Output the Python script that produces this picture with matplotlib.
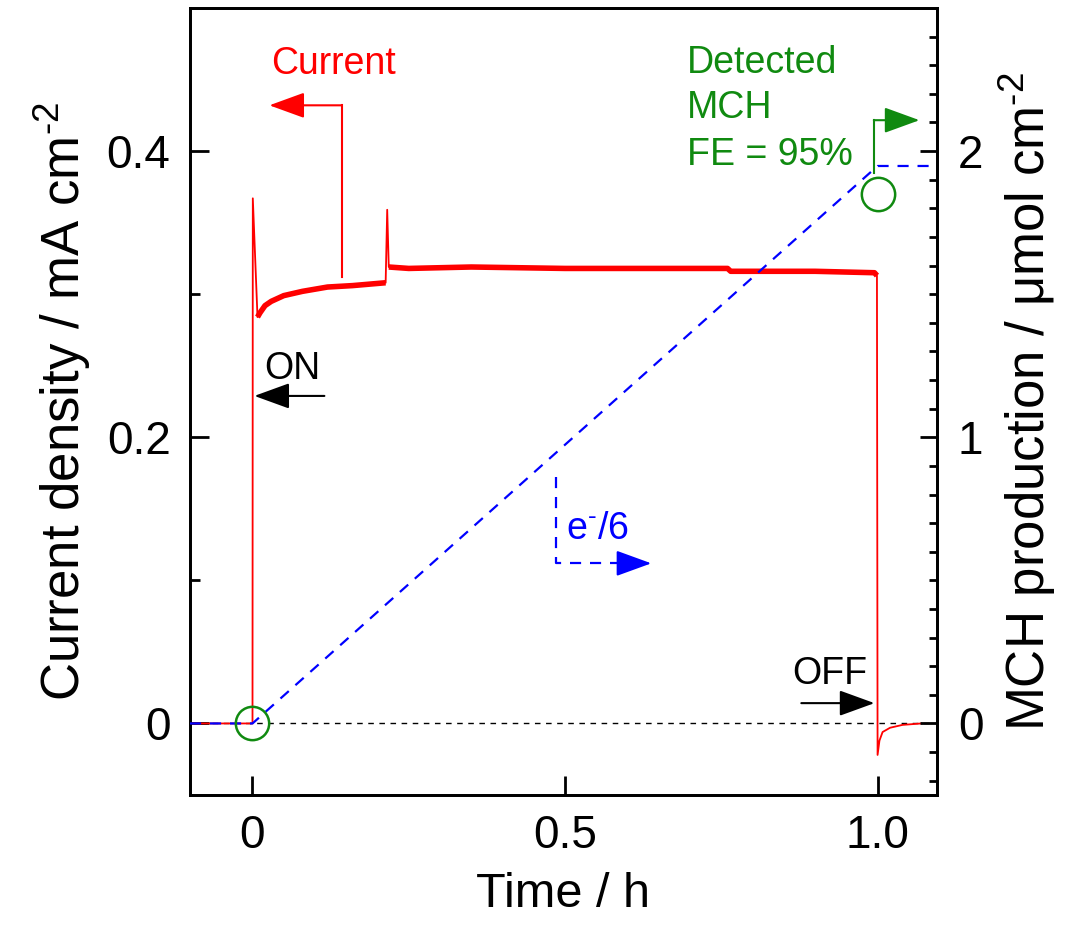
import matplotlib
matplotlib.use('Agg')
import matplotlib.pyplot as plt
import numpy as np

# current transient (mA cm-2)
time_h = [-0.1, -0.05, 0.0, 0.0005, 0.008, 0.012, 0.02, 0.03, 0.05, 0.08,
          0.12, 0.16, 0.213, 0.2155, 0.218, 0.25, 0.35, 0.5, 0.6, 0.76,
          0.765, 0.9, 0.995, 0.999, 1.0, 1.003, 1.008, 1.02, 1.04, 1.07]
current = [0.0, 0.0, 0.0, 0.367, 0.284, 0.287, 0.292, 0.295, 0.299, 0.302,
           0.305, 0.306, 0.308, 0.359, 0.319, 0.318, 0.319, 0.318, 0.318, 0.318,
           0.316, 0.316, 0.315, 0.313, -0.022, -0.012, -0.006, -0.003, -0.001, 0.0]

# expected MCH from charge (e-/6), umol cm-2
expected_time = [-0.1, 0.0, 1.0, 1.1]
expected_mch = [0.0, 0.0, 1.948, 1.948]

# detected MCH
detected_time = [0.0, 1.0]
detected_mch = [0.0, 1.85]

x_ticks = [0, 0.5, 1.0]
x_labels = ['0', '0.5', '1.0']
y_ticks = [0, 0.2, 0.4]
y_labels = ['0', '0.2', '0.4']
y2_ticks = [0, 1, 2]
y2_labels = ['0', '1', '2']

plt.rcParams['font.family'] = ['Liberation Sans', 'DejaVu Sans']
plt.rcParams['mathtext.fontset'] = 'custom'
plt.rcParams['mathtext.rm'] = 'Liberation Sans'
plt.rcParams['mathtext.default'] = 'regular'

red = '#ff0000'
blue = '#0000ff'
green = '#108a10'
hy = '\u2010'  # short hyphen for superscripts

fig = plt.figure(figsize=(10.74, 9.32), dpi=100)
ax = fig.add_axes([0.1769, 0.147, 0.6955, 0.8444])
ax2 = ax.twinx()

ax.axhline(0, color='black', lw=1.0, ls=(0, (4, 4)), zorder=1)

t = np.array(time_h)
j = np.array(current)
ax.plot(t, j, color=red, lw=1.3, zorder=3)
# noisy band of the measured trace
seg1 = (t >= 0.008) & (t <= 0.213)
seg2 = (t >= 0.218) & (t <= 0.999)
ax.plot(t[seg1], j[seg1], color=red, lw=4, zorder=3, solid_capstyle='butt')
ax.plot(t[seg2], j[seg2], color=red, lw=4, zorder=3, solid_capstyle='butt')

ax2.plot(expected_time, expected_mch, color=blue, lw=1.6, ls=(0, (5, 4)), zorder=4)
ax2.plot(detected_time, detected_mch, 'o', ms=24, mfc='none', mec=green, mew=1.8, zorder=5)

ax.set_xlim(-0.1, 1.095)
ax.set_ylim(-0.05, 0.5)
ax2.set_ylim(-0.25, 2.5)

ax.set_xticks(x_ticks, x_labels)
ax.set_yticks(y_ticks, y_labels)
ax.set_yticks([0.1, 0.3], minor=True)
ax2.set_yticks(y2_ticks, y2_labels)
ax2.set_yticks([v / 10 for v in range(-2, 25) if v % 10 != 0], minor=True)

ax.tick_params(axis='both', which='major', direction='in', length=14, width=2,
               labelsize=33, pad=14)
ax.tick_params(axis='y', which='minor', direction='in', length=7, width=2)
ax.tick_params(axis='x', which='major', top=False)
ax2.tick_params(axis='y', which='major', direction='in', length=12, width=2,
                labelsize=33, pad=15)
ax2.tick_params(axis='y', which='minor', direction='in', length=6, width=2)

for a in (ax, ax2):
    for s in a.spines.values():
        s.set_linewidth(2)

ax.set_xlabel('Time / h', fontsize=35, labelpad=10)
ax.set_ylabel('Current density / mA cm$^{' + hy + '2}$', fontsize=38, labelpad=10)
ax2.set_ylabel('MCH production / μmol cm$^{' + hy + '2}$', fontsize=38, labelpad=10)

# annotations
ax.text(0.129, 0.454, 'Current', color=red, fontsize=27, ha='center', va='baseline')
ax.plot([0.1426, 0.1426], [0.312, 0.432], color=red, lw=1.5, zorder=3)
ax.annotate('', xy=(0.027, 0.432), xytext=(0.1426, 0.432),
            arrowprops=dict(arrowstyle='-|>,head_length=1.1,head_width=0.4',
                            mutation_scale=20, color=red, lw=1.5, shrinkA=0, shrinkB=0))

ax.text(0.0192, 0.2406, 'ON', fontsize=27, ha='left', va='baseline')
ax.annotate('', xy=(0.003, 0.2289), xytext=(0.115, 0.2289),
            arrowprops=dict(arrowstyle='-|>,head_length=1.1,head_width=0.4',
                            mutation_scale=20, color='black', lw=1.5, shrinkA=0, shrinkB=0))

ax.text(0.864, 0.0273, 'OFF', fontsize=27, ha='left', va='baseline')
ax.annotate('', xy=(0.995, 0.0142), xytext=(0.878, 0.0142),
            arrowprops=dict(arrowstyle='-|>,head_length=1.1,head_width=0.4',
                            mutation_scale=20, color='black', lw=1.5, shrinkA=0, shrinkB=0))

ax.text(0.5016, 0.1287, 'e$^{' + hy + '}$/6', color=blue, fontsize=27, ha='left', va='baseline')
ax.plot([0.486, 0.486, 0.59], [0.172, 0.1119, 0.1119], color=blue, lw=1.6,
        ls=(0, (5, 4)), zorder=4)
ax.annotate('', xy=(0.638, 0.1119), xytext=(0.59, 0.1119),
            arrowprops=dict(arrowstyle='-|>,head_length=1.1,head_width=0.4',
                            mutation_scale=20, color=blue, lw=1.5, shrinkA=0, shrinkB=0))

for txt, yb in [('Detected', 0.4545), ('MCH', 0.423), ('FE = 95%', 0.390)]:
    ax.text(0.6955, yb, txt, color=green, fontsize=27, ha='left', va='baseline')
ax2.plot([0.994, 0.994], [1.923, 2.108], color=green, lw=1.5, zorder=4)
ax2.annotate('', xy=(1.067, 2.108), xytext=(0.994, 2.108),
             arrowprops=dict(arrowstyle='-|>,head_length=1.1,head_width=0.4',
                             mutation_scale=20, color=green, lw=1.5, shrinkA=0, shrinkB=0))

fig.savefig('out.png', dpi=100)
